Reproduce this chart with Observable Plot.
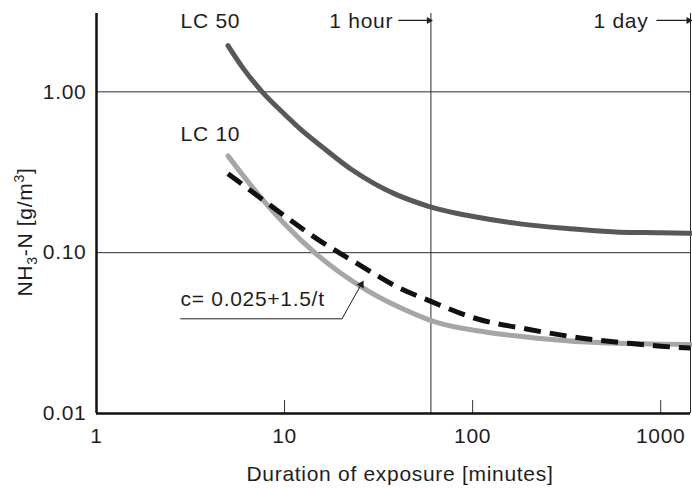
<!DOCTYPE html>
<html><head><meta charset="utf-8">
<script src="https://cdn.jsdelivr.net/npm/d3@7"></script>
<script src="https://cdn.jsdelivr.net/npm/@observablehq/plot@0.6"></script>
<style>body{margin:0;background:#fff}</style>
</head><body><div id="chart"></div>
<script>
// Duration of exposure (minutes) and NH3-N concentration (g/m3)
const durationLC50 = [5, 6, 7.6, 10, 12.4, 16, 22.7, 30, 38.5, 57.7, 65, 97.5, 179, 328, 603, 1000, 1440];
const valuesLC50   = [1.94, 1.41, 1.0, 0.726, 0.574, 0.451, 0.329, 0.269, 0.232, 0.195, 0.187, 0.169, 0.151, 0.141, 0.134, 0.133, 0.132];
const durationLC10 = [5, 6.75, 8, 10.1, 15.2, 24.6, 40, 57.7, 65, 119, 219, 492, 1000, 1440];
const valuesLC10   = [0.40, 0.255, 0.201, 0.149, 0.0951, 0.0631, 0.0462, 0.0385, 0.0367, 0.0320, 0.0294, 0.0275, 0.0270, 0.0269];
const durationFit  = [5, 7, 10, 15, 25, 40, 60, 100, 200, 400, 700, 1000, 1440];
const valuesFit    = [0.31, 0.231, 0.169, 0.121, 0.084, 0.061, 0.0498, 0.0395, 0.0333, 0.0292, 0.0272, 0.0262, 0.0255];

const xTicks = [1, 10, 100, 1000];
const xTickMarks = [10, 100, 1000];
const yTicks = [0.01, 0.1, 1];
const yGrid = [0.1, 1];
const timeMarkers = [60, 1440];           // 1 hour, 1 day
const curveLabels = [
  {t: 2.8, c: 2.49, text: "LC 50"},
  {t: 2.8, c: 0.495, text: "LC 10"},
  {t: 17.3, c: 2.49, text: "1 hour"},
  {t: 439, c: 2.49, text: "1 day"},
  {t: 2.8, c: 0.0464, text: "c= 0.025+1.5/t"}
];
const markerArrows = [
  {t1: 40.3, t2: 60, c1: 2.78, c2: 2.78, angle: 90},
  {t1: 949, t2: 1440, c1: 2.78, c2: 2.78, angle: 90}
];
const leader = [{t: 2.8, c: 0.0388}, {t: 20.2, c: 0.0388}];
const leaderArrow = [{t1: 20.2, c1: 0.0388, t2: 25.9, c2: 0.0653, angle: 30}];

const toRows = (ts, cs) => ts.map((t, i) => ({t, c: cs[i]}));
const FONT = "Liberation Sans, Arial, Helvetica, sans-serif";
const INK = "#1e1e1e";

const plot = Plot.plot({
  width: 692,
  height: 489,
  marginLeft: 96,
  marginRight: 2,
  marginTop: 13,
  marginBottom: 76,
  style: {fontFamily: FONT, fontSize: "21px", letterSpacing: "0.7px", background: "#fff", color: INK},
  x: {type: "log", domain: [1, 1440]},
  y: {type: "log", domain: [0.01, 3.07]},
  marks: [
    Plot.ruleY(yGrid, {stroke: "#2a2a2a", strokeWidth: 1}),
    Plot.ruleX(timeMarkers, {stroke: "#2a2a2a", strokeWidth: 1}),
    Plot.axisX({ticks: xTickMarks, tickSize: -13, fill: "none", stroke: "#333", label: null}),
    Plot.axisX({ticks: xTicks, tickSize: 0, tickPadding: 15, tickFormat: d => String(d), fontSize: 21, fill: INK, label: null}),
    Plot.axisY({ticks: yTicks, tickSize: 0, tickPadding: 10, tickFormat: d3.format(".2f"), fontSize: 21, fill: INK, label: null}),
    Plot.line(toRows(durationLC10, valuesLC10), {x: "t", y: "c", stroke: "#a6a6a6", strokeWidth: 5, curve: "monotone-x"}),
    Plot.line(toRows(durationLC50, valuesLC50), {x: "t", y: "c", stroke: "#585858", strokeWidth: 5, curve: "monotone-x"}),
    Plot.line(toRows(durationFit, valuesFit), {x: "t", y: "c", stroke: "#111", strokeWidth: 5, strokeDasharray: "17,9", strokeLinecap: "butt", curve: "monotone-x"}),
    Plot.ruleX([1], {stroke: "#111", strokeWidth: 2.5}),
    Plot.ruleY([0.01], {stroke: "#111", strokeWidth: 2.5}),
    Plot.text(curveLabels, {x: "t", y: "c", text: "text", textAnchor: "start", lineAnchor: "bottom", fontSize: 21, fill: INK}),
    Plot.link(markerArrows, {x1: "t1", x2: "t2", y1: "c1", y2: "c2", stroke: INK, strokeWidth: 1.2}),
    Plot.dot(markerArrows, {x: "t2", y: "c2", symbol: "triangle", r: 2.6, rotate: "angle", fill: INK, dx: -2}),
    Plot.line(leader, {x: "t", y: "c", stroke: INK, strokeWidth: 1}),
    Plot.link(leaderArrow, {x1: "t1", x2: "t2", y1: "c1", y2: "c2", stroke: INK, strokeWidth: 1}),
    Plot.dot(leaderArrow, {x: "t2", y: "c2", symbol: "triangle", r: 3, rotate: "angle", fill: INK, dx: -1, dy: 2})
  ]
});

const svg = d3.select(plot);
svg.append("text")
  .attr("x", 400).attr("y", 481)
  .attr("text-anchor", "middle")
  .attr("fill", INK)
  .style("font-size", "21px")
  .text("Duration of exposure [minutes]");

const yl = svg.append("text")
  .attr("transform", "translate(32,232) rotate(-90)")
  .attr("text-anchor", "middle")
  .attr("fill", INK)
  .style("font-size", "21px");
yl.append("tspan").text("NH");
yl.append("tspan").attr("dy", 5).style("font-size", "14px").text("3");
yl.append("tspan").attr("dy", -5).text("-N [g/m");
yl.append("tspan").attr("dy", -8).style("font-size", "14px").text("3");
yl.append("tspan").attr("dy", 8).text("]");

document.getElementById("chart").appendChild(plot);
</script>
</body></html>
